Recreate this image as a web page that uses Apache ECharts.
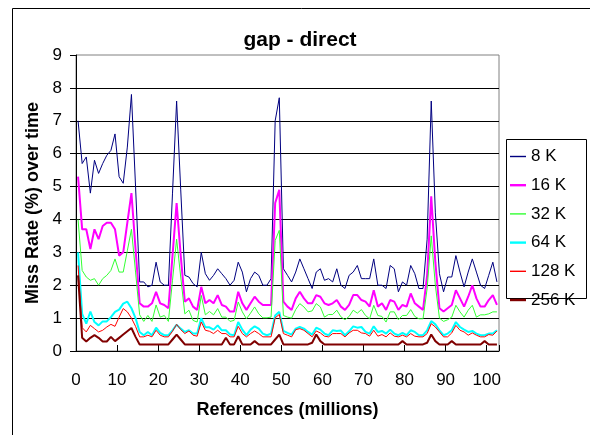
<!DOCTYPE html>
<html>
<head>
<meta charset="utf-8">
<script src="https://cdn.jsdelivr.net/npm/echarts@6/dist/echarts.min.js"></script>
<style>
  html, body { margin: 0; padding: 0; background: #fff; }
  #chart { width: 590px; height: 435px; }
</style>
</head>
<body>
<div id="chart"></div>
<script>
// Miss rate (%) of a direct-mapped cache, one sample per million references.
const cacheSizes = ['8 K', '16 K', '32 K', '64 K', '128 K', '256 K'];
const xTicks = [0, 10, 20, 30, 40, 50, 60, 70, 80, 90, 100];
const yTicks = [0, 1, 2, 3, 4, 5, 6, 7, 8, 9];

const miss8K = [
  7.0, 5.7, 5.9, 4.8, 5.8, 5.4, 5.7, 5.95, 6.1, 6.6,
  5.3, 5.1, 6.2, 7.8, 5.0, 2.1, 2.1, 1.95, 2.0, 2.7,
  2.1, 2.0, 2.0, 4.8, 7.6, 4.9, 2.3, 2.25, 2.05, 1.95,
  3.0, 2.35, 2.15, 2.3, 2.5, 2.35, 2.2, 2.0, 2.15, 2.7,
  2.4, 1.8, 2.2, 2.4, 2.3, 2.0, 2.0, 2.2, 7.0, 7.7,
  2.5, 2.3, 2.1, 2.4, 2.8, 2.5, 2.2, 1.9, 2.4, 2.5,
  2.15, 2.2, 2.1, 2.5, 2.0, 1.9, 2.3, 2.4, 2.6, 2.2,
  2.2, 2.2, 2.8, 2.0, 2.0, 1.9, 2.6, 2.5, 1.8, 2.1,
  2.0, 2.6, 2.35, 1.9, 1.9, 3.4, 7.6, 4.2, 2.35, 1.8,
  2.25, 2.25, 2.9, 2.4, 1.95, 2.4, 2.8, 2.4, 2.0, 1.9,
  2.3, 2.7, 2.1
];
const miss16K = [
  5.3, 3.7, 3.7, 3.1, 3.7, 3.4, 3.8, 3.9, 3.9, 3.7,
  2.9, 3.0, 3.9, 4.8, 3.1, 1.45, 1.35, 1.35, 1.45, 1.8,
  1.45, 1.4, 1.3, 2.9, 4.5, 2.9, 1.5, 1.6, 1.35, 1.25,
  1.95, 1.45, 1.55, 1.45, 1.7, 1.4, 1.35, 1.2, 1.2, 1.8,
  1.45, 1.25, 1.45, 1.65, 1.5, 1.4, 1.4, 1.4, 4.5, 4.9,
  1.5, 1.35, 1.25, 1.6, 1.8, 1.6, 1.45, 1.45, 1.7, 1.65,
  1.45, 1.4, 1.45, 1.55, 1.35, 1.25, 1.4, 1.7, 1.7, 1.55,
  1.5, 1.35, 1.85, 1.35, 1.45, 1.25, 1.55, 1.5, 1.25, 1.4,
  1.35, 1.75, 1.45, 1.35, 1.25, 2.3, 4.7, 2.7, 1.3, 1.2,
  1.3, 1.4, 1.85, 1.6, 1.35, 1.65, 2.0, 1.6, 1.35, 1.35,
  1.55, 1.7, 1.4
];
const miss32K = [
  4.0, 2.45, 2.25, 2.15, 2.2, 2.0, 2.2, 2.3, 2.45, 2.8,
  2.4, 2.4, 3.05, 3.7, 2.4, 1.1, 0.9, 1.08, 0.9, 1.4,
  1.03, 1.08, 0.9, 2.15, 3.4, 2.25, 1.13, 1.24, 0.93, 0.88,
  1.69, 1.1, 1.2, 1.1, 1.29, 1.03, 1.03, 0.9, 0.93, 1.49,
  1.19, 0.98, 1.15, 1.34, 1.13, 1.01, 1.01, 1.03, 3.36, 3.67,
  1.08, 1.03, 1.0, 1.26, 1.44, 1.34, 1.19, 1.22, 1.44, 1.34,
  1.03, 1.11, 1.11, 1.24, 1.04, 0.95, 1.05, 1.24, 1.15, 1.26,
  1.08, 0.98, 1.39, 1.08, 1.05, 0.88, 1.19, 1.19, 0.95, 1.08,
  1.08, 1.26, 1.05, 0.98, 0.98, 1.9, 3.5, 2.0, 1.0, 0.9,
  0.95, 1.03, 1.39, 1.19, 1.03, 1.24, 1.39, 1.03, 1.1, 1.1,
  1.13, 1.19, 1.19
];
const miss64K = [
  3.0, 1.13, 0.83, 1.2, 0.88, 0.78, 0.9, 0.9, 1.03, 1.19,
  1.26, 1.44, 1.5, 1.3, 1.0, 0.58, 0.48, 0.58, 0.48, 0.71,
  0.55, 0.48, 0.48, 0.63, 0.8, 0.68, 0.58, 0.63, 0.53, 0.53,
  1.0, 0.72, 0.72, 0.65, 0.78, 0.63, 0.63, 0.5, 0.48, 0.88,
  0.65, 0.48, 0.65, 0.75, 0.68, 0.53, 0.48, 0.53, 1.08, 1.19,
  0.61, 0.55, 0.5, 0.68, 0.73, 0.68, 0.58, 0.5, 0.71, 0.65,
  0.53, 0.48, 0.63, 0.61, 0.62, 0.48, 0.6, 0.75, 0.71, 0.73,
  0.58, 0.53, 0.75, 0.58, 0.61, 0.53, 0.65, 0.53, 0.48, 0.55,
  0.48, 0.63, 0.58, 0.48, 0.48, 0.63, 0.91, 0.81, 0.63, 0.48,
  0.53, 0.63, 0.88, 0.73, 0.65, 0.58, 0.61, 0.53, 0.48, 0.48,
  0.53, 0.53, 0.63
];
const miss128K = [
  2.6, 0.71, 0.58, 0.78, 0.68, 0.58, 0.63, 0.73, 0.81, 0.75,
  1.03, 1.29, 1.19, 1.0, 0.75, 0.43, 0.43, 0.48, 0.43, 0.63,
  0.48, 0.43, 0.43, 0.6, 0.81, 0.65, 0.53, 0.61, 0.48, 0.45,
  0.88, 0.63, 0.6, 0.53, 0.63, 0.53, 0.53, 0.43, 0.43, 0.75,
  0.53, 0.43, 0.53, 0.61, 0.53, 0.43, 0.43, 0.43, 1.01, 1.11,
  0.53, 0.48, 0.43, 0.65, 0.68, 0.63, 0.53, 0.43, 0.61, 0.55,
  0.45, 0.43, 0.53, 0.53, 0.53, 0.43, 0.55, 0.63, 0.63, 0.55,
  0.53, 0.45, 0.63, 0.45, 0.5, 0.43, 0.55, 0.45, 0.43, 0.48,
  0.43, 0.53, 0.45, 0.43, 0.43, 0.53, 0.83, 0.73, 0.58, 0.43,
  0.43, 0.55, 0.78, 0.63, 0.58, 0.48, 0.55, 0.48, 0.43, 0.43,
  0.5, 0.48, 0.61
];
const miss256K = [
  2.3, 0.4, 0.29, 0.4, 0.48, 0.4, 0.29, 0.29, 0.43, 0.3,
  0.4, 0.5, 0.6, 0.7, 0.43, 0.2, 0.2, 0.2, 0.2, 0.2,
  0.2, 0.2, 0.2, 0.35, 0.5, 0.35, 0.2, 0.2, 0.2, 0.2,
  0.2, 0.2, 0.2, 0.2, 0.2, 0.2, 0.4, 0.2, 0.2, 0.45,
  0.2, 0.2, 0.2, 0.3, 0.2, 0.2, 0.2, 0.2, 0.35, 0.5,
  0.2, 0.2, 0.2, 0.2, 0.2, 0.2, 0.2, 0.25, 0.5, 0.3,
  0.2, 0.2, 0.2, 0.2, 0.2, 0.2, 0.2, 0.2, 0.2, 0.2,
  0.2, 0.2, 0.2, 0.2, 0.2, 0.2, 0.2, 0.2, 0.2, 0.3,
  0.2, 0.2, 0.2, 0.2, 0.2, 0.25, 0.5, 0.3, 0.2, 0.2,
  0.2, 0.3, 0.2, 0.2, 0.2, 0.2, 0.2, 0.2, 0.2, 0.3,
  0.2, 0.2, 0.2
];

const seriesValues = [miss8K, miss16K, miss32K, miss64K, miss128K, miss256K];
const seriesColors = ['#000080', '#ff00ff', '#33ff33', '#00ffff', '#ff0000', '#800000'];
const seriesWidths = [1, 2, 1, 2, 1, 2];

// each sample covers one million references; plot it at the window midpoint
const toPoints = vals => vals.map((v, i) => [i + 0.5, v]);

// legend keys are plain line strokes, thin or thick like their series
const thinKey = 'path://M0,0H16V1.4H0Z';
const thickKey = 'path://M0,0H16V2.4H0Z';

const FONT = '"Liberation Sans", Arial, sans-serif';
const chart = echarts.init(document.getElementById('chart'), null, { renderer: 'canvas' });

chart.setOption({
  animation: false,
  backgroundColor: '#ffffff',
  grid: {
    left: 76, top: 55, width: 423, height: 296,
    show: true, borderColor: '#808080', borderWidth: 1, backgroundColor: 'transparent'
  },
  xAxis: {
    type: 'value', min: 0, max: 103, interval: 10,
    name: 'References (millions)', nameLocation: 'middle', nameGap: 50,
    nameTextStyle: { fontFamily: FONT, fontSize: 18, fontWeight: 'bold', color: '#000' },
    axisLine: { show: true, lineStyle: { color: '#000', width: 1 } },
    axisTick: { show: true, inside: true, length: 6, lineStyle: { color: '#000' } },
    axisLabel: {
      margin: 21, fontFamily: FONT, fontSize: 17, color: '#000',
      formatter: v => (xTicks.indexOf(v) >= 0 ? String(v) : '')
    },
    splitLine: { show: false }
  },
  yAxis: {
    type: 'value', min: yTicks[0], max: yTicks[yTicks.length - 1], interval: 1,
    name: 'Miss Rate (%) over time', nameLocation: 'middle', nameGap: 32,
    nameTextStyle: { fontFamily: FONT, fontSize: 18, fontWeight: 'bold', color: '#000' },
    axisLine: { show: true, lineStyle: { color: '#000', width: 1 } },
    axisTick: { show: true, inside: false, length: 6, lineStyle: { color: '#000' } },
    axisLabel: { margin: 14, fontFamily: FONT, fontSize: 17, color: '#000' },
    splitLine: { show: true, showMinLine: false, showMaxLine: false, lineStyle: { color: '#000', width: 1 } }
  },
  legend: {
    orient: 'vertical', left: 510, top: 148,
    itemWidth: 16, itemHeight: 14, itemGap: 11.7,
    padding: 0,
    symbolKeepAspect: true,
    textStyle: { fontFamily: FONT, fontSize: 17, color: '#000' },
    data: cacheSizes.map((name, k) => ({
      name: name,
      icon: seriesWidths[k] > 1 ? thickKey : thinKey,
      itemStyle: { color: seriesColors[k] }
    }))
  },
  graphic: [
    { type: 'rect', shape: { x: 12.5, y: 8.5, width: 600, height: 500 },
      style: { fill: 'none', stroke: '#000', lineWidth: 1 }, z: -1, silent: true },
    { type: 'rect', shape: { x: 506.5, y: 139.5, width: 80, height: 159 },
      style: { fill: '#fff', stroke: '#000', lineWidth: 1 }, z: 0, silent: true },
    { type: 'text', x: 300, y: 40,
      style: { text: 'gap - direct', font: 'bold 21px ' + FONT, fill: '#000',
               align: 'center', verticalAlign: 'middle' }, silent: true }
  ],
  series: cacheSizes.map((name, k) => ({
    name: name,
    type: 'line',
    data: toPoints(seriesValues[k]),
    symbol: 'none',
    showSymbol: false,
    smooth: false,
    color: seriesColors[k],
    lineStyle: { color: seriesColors[k], width: seriesWidths[k] },
    emphasis: { disabled: true }
  }))
});
</script>
</body>
</html>
